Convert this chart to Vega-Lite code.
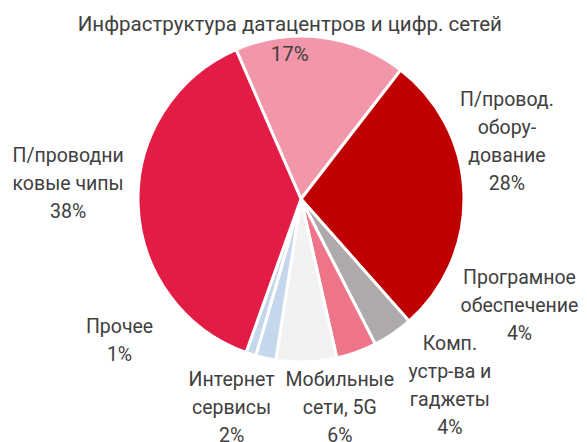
{
  "$schema": "https://vega.github.io/schema/vega-lite/v6.json",
  "width": 326,
  "height": 326,
  "autosize": {"type": "none"},
  "padding": {"left": 138, "top": 36, "right": 123, "bottom": 80},
  "background": "white",
  "config": {"view": {"stroke": null}},
  "data": {
    "values": [
      {"cat": "infra", "ord": 1, "pct": 17, "label": "Инфраструктура датацентров и цифр. сетей\n17%"},
      {"cat": "equip", "ord": 2, "pct": 28, "label": "П/провод.\nобору-\nдование\n28%"},
      {"cat": "soft", "ord": 3, "pct": 4, "label": "Програмное\nобеспечение\n4%"},
      {"cat": "comp", "ord": 4, "pct": 4, "label": "Комп.\nустр-ва и\nгаджеты\n4%"},
      {"cat": "mobile", "ord": 5, "pct": 6, "label": "Мобильные\nсети, 5G\n6%"},
      {"cat": "internet", "ord": 6, "pct": 2, "label": "Интернет\nсервисы\n2%"},
      {"cat": "other", "ord": 7, "pct": 1, "label": "Прочее\n1%"},
      {"cat": "chips", "ord": 8, "pct": 38, "label": "П/проводни\nковые чипы\n38%"}
    ]
  },
  "encoding": {
    "theta": {"field": "pct", "type": "quantitative", "stack": true, "scale": {"range": [-0.4102, 5.8730]}},
    "order": {"field": "ord", "type": "quantitative", "sort": "ascending"}
  },
  "layer": [
    {
      "mark": {"type": "arc", "outerRadius": 163, "stroke": "white", "strokeWidth": 3},
      "encoding": {
        "color": {
          "field": "cat", "type": "nominal", "legend": null,
          "scale": {
            "domain": ["infra", "equip", "soft", "comp", "mobile", "internet", "other", "chips"],
            "range": ["#F297A9", "#C00000", "#AEAAAA", "#EE7489", "#F2F2F2", "#C5D7EC", "#C5D7EC", "#E31C45"]
          }
        }
      }
    },
    {
      "mark": {"type": "text", "radius": 160, "dx": -31, "dy": -15, "lineBreak": "\n", "font": "Roboto", "fontSize": 20.5, "lineHeight": 30, "fill": "#404040", "align": "center", "baseline": "middle"},
      "encoding": {"text": {"condition": {"test": "datum.cat === 'infra'", "field": "label"}, "value": ""}}
    },
    {
      "mark": {"type": "text", "radius": 210, "dx": -4, "dy": -92, "lineBreak": "\n", "font": "Roboto", "fontSize": 19.5, "lineHeight": 28, "fill": "#404040", "align": "center", "baseline": "middle"},
      "encoding": {"text": {"condition": {"test": "datum.cat === 'equip'", "field": "label"}, "value": ""}}
    },
    {
      "mark": {"type": "text", "radius": 244, "dx": 81, "dy": -123, "lineBreak": "\n", "font": "Roboto", "fontSize": 19.5, "lineHeight": 28, "fill": "#404040", "align": "center", "baseline": "middle"},
      "encoding": {"text": {"condition": {"test": "datum.cat === 'soft'", "field": "label"}, "value": ""}}
    },
    {
      "mark": {"type": "text", "radius": 220, "dx": 74, "dy": -62, "lineBreak": "\n", "font": "Roboto", "fontSize": 19.5, "lineHeight": 28, "fill": "#404040", "align": "center", "baseline": "middle"},
      "encoding": {"text": {"condition": {"test": "datum.cat === 'comp'", "field": "label"}, "value": ""}}
    },
    {
      "mark": {"type": "text", "radius": 205, "dx": 32, "dy": -24, "lineBreak": "\n", "font": "Roboto", "fontSize": 19.5, "lineHeight": 28, "fill": "#404040", "align": "center", "baseline": "middle"},
      "encoding": {"text": {"condition": {"test": "datum.cat === 'mobile'", "field": "label"}, "value": ""}}
    },
    {
      "mark": {"type": "text", "radius": 210, "dx": -24, "dy": -24, "lineBreak": "\n", "font": "Roboto", "fontSize": 19.5, "lineHeight": 28, "fill": "#404040", "align": "center", "baseline": "middle"},
      "encoding": {"text": {"condition": {"test": "datum.cat === 'internet'", "field": "label"}, "value": ""}}
    },
    {
      "mark": {"type": "text", "radius": 200, "dx": -120, "dy": -62, "lineBreak": "\n", "font": "Roboto", "fontSize": 19.5, "lineHeight": 28, "fill": "#404040", "align": "center", "baseline": "middle"},
      "encoding": {"text": {"condition": {"test": "datum.cat === 'other'", "field": "label"}, "value": ""}}
    },
    {
      "mark": {"type": "text", "radius": 233, "dx": 0, "dy": -51, "lineBreak": "\n", "font": "Roboto", "fontSize": 19.5, "lineHeight": 28, "fill": "#404040", "align": "center", "baseline": "middle"},
      "encoding": {"text": {"condition": {"test": "datum.cat === 'chips'", "field": "label"}, "value": ""}}
    }
  ]
}
